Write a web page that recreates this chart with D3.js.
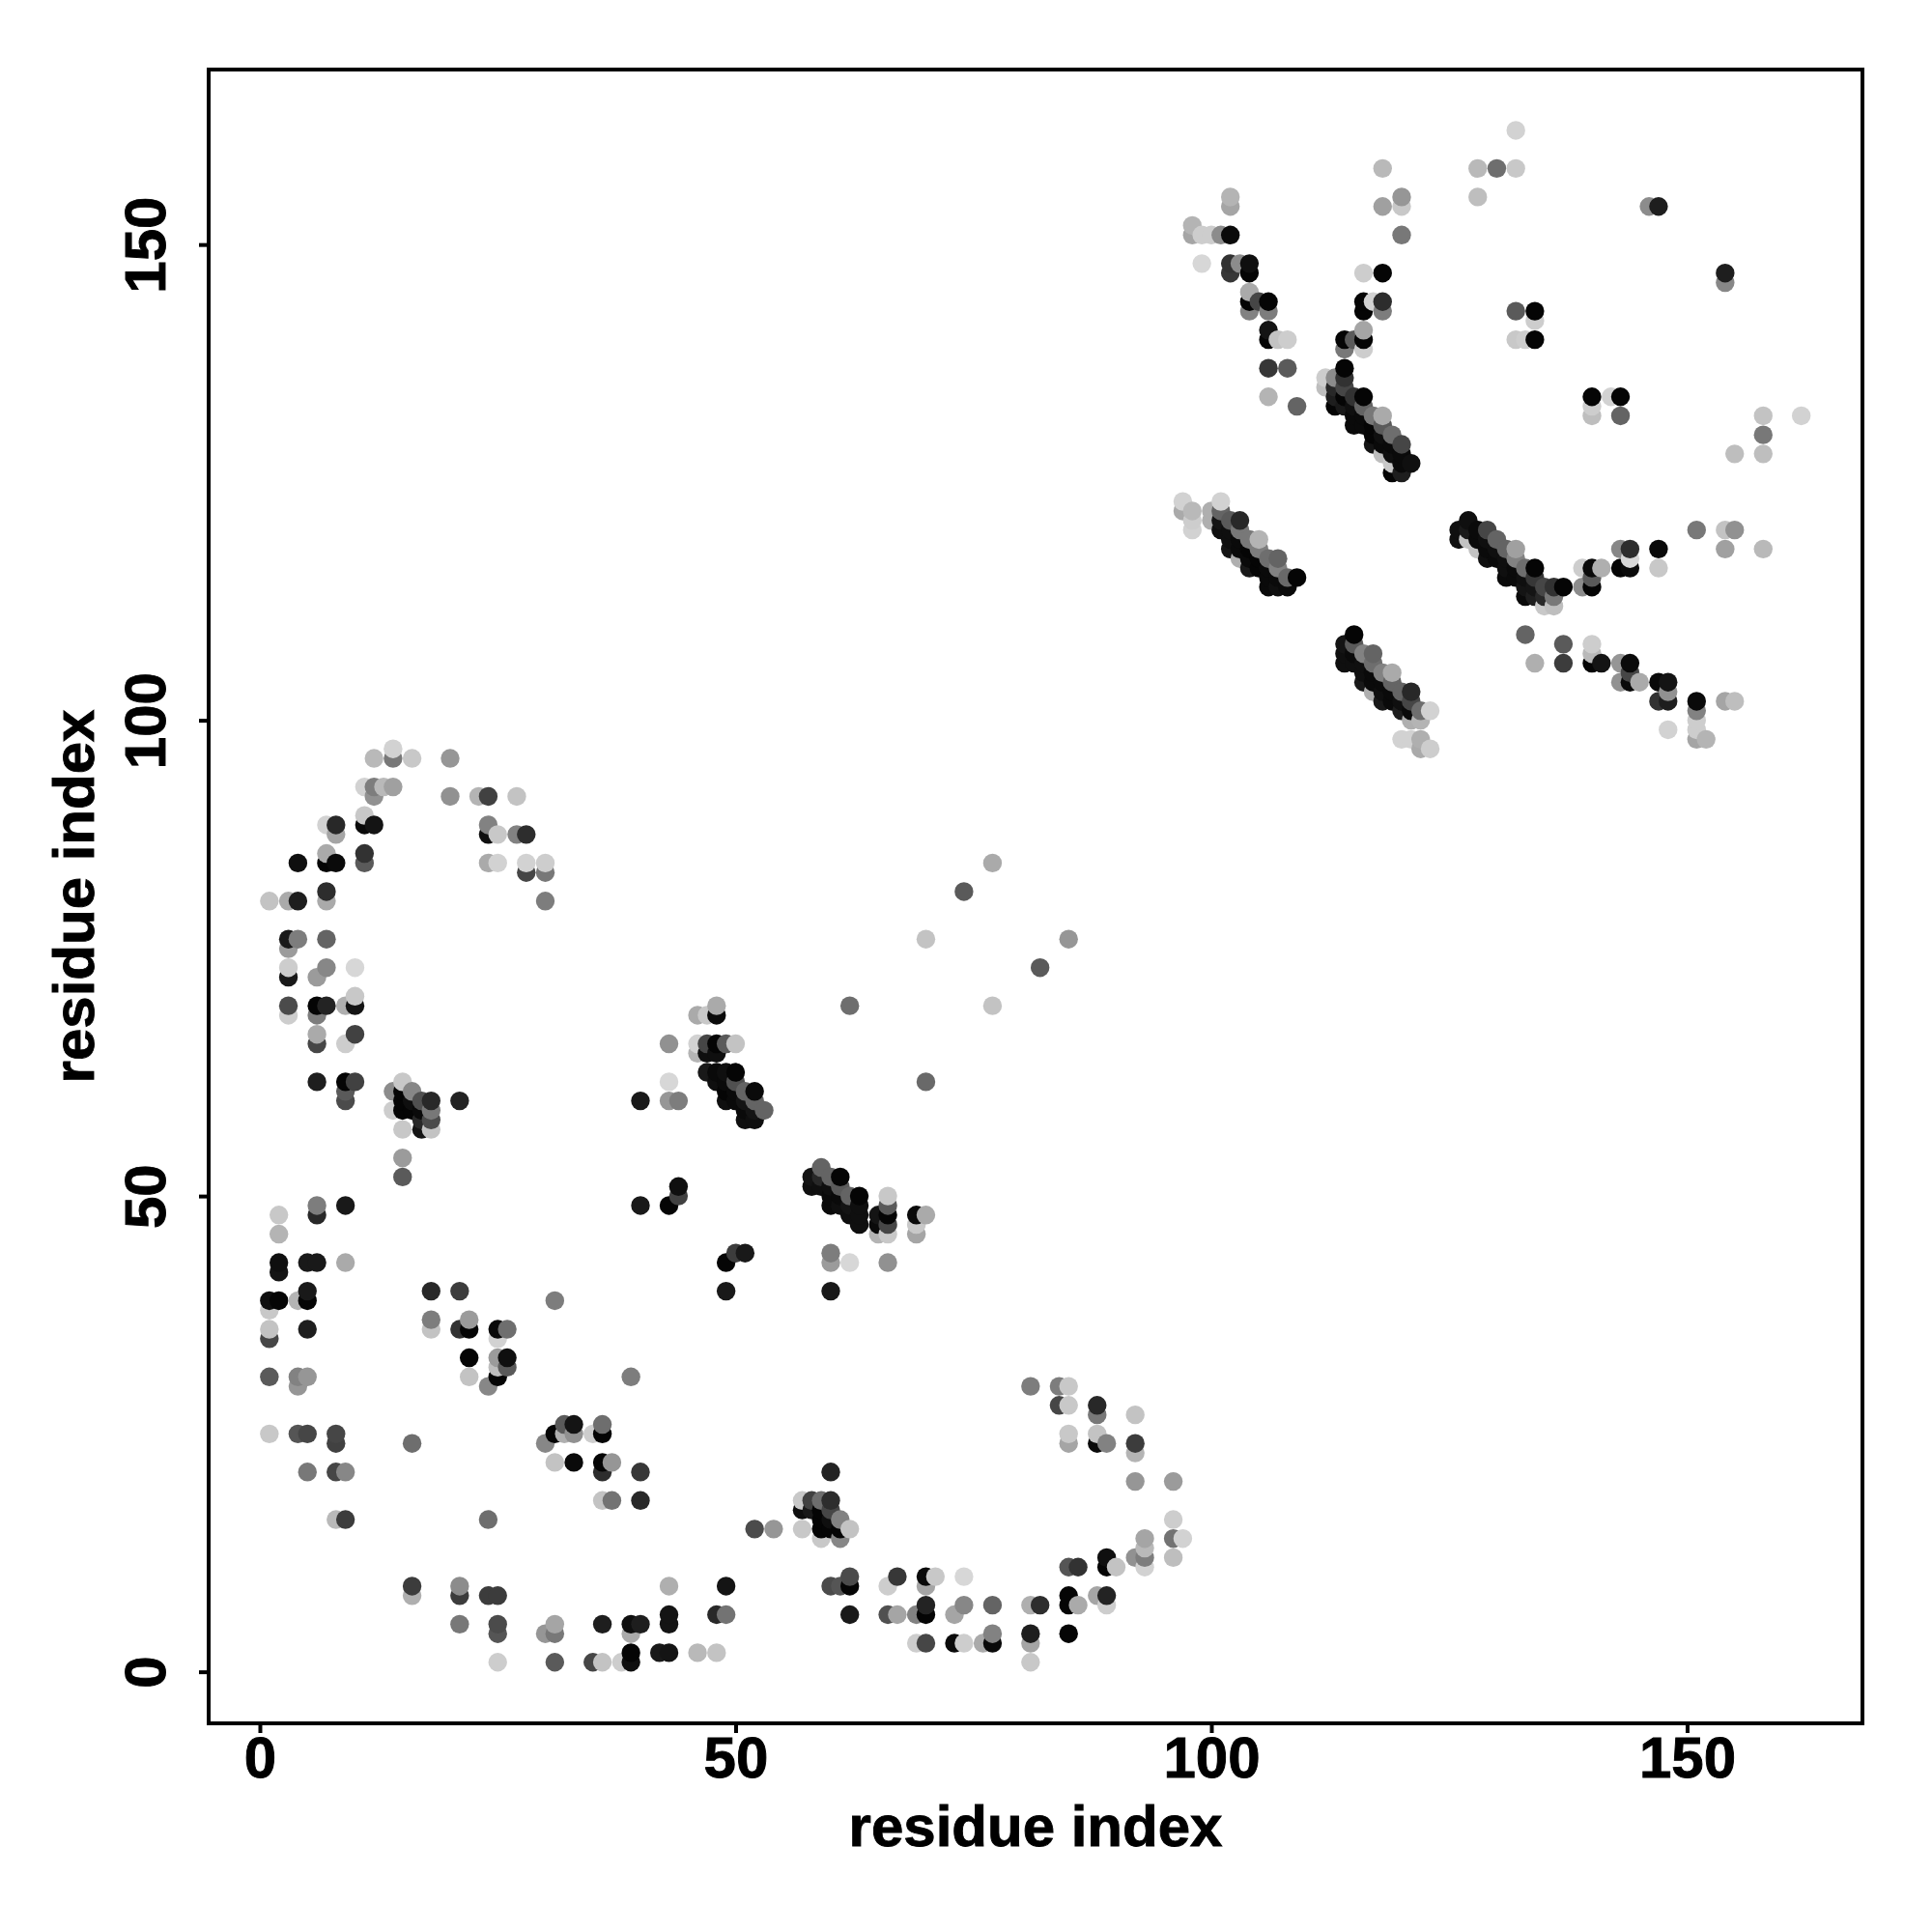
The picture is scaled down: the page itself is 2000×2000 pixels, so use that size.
<!DOCTYPE html>
<html><head><meta charset="utf-8">
<script src="https://cdn.jsdelivr.net/npm/d3@7"></script>
<style>html,body{margin:0;padding:0;background:#fff}</style>
</head><body><div id="chart"></div>
<script>
// each entry: [residue i, residue j, grey level of the contact]
const helixFoldUpper = [
[12,96,185],[14,96,120],[14,97,210],[16,96,200],[20,96,150],
[11,93,210],[12,93,125],[13,93,185],[14,93,160],[12,92,145],[20,92,145],[23,92,180],[24,92,65],[27,92,195],
[11,90,200],[7,89,210],[8,89,40],[11,89,10],[12,89,20],[24,89,130],
[8,88,165],[24,88,15],[25,88,200],[27,88,130],[28,88,45],
[7,86,170],[11,86,50],[4,85,15],[7,85,5],[8,85,10],[11,85,90],[24,85,170],[25,85,210],[28,85,210],[30,85,205],
[28,84,70],[30,84,120],[7,82,45],[1,81,195],[3,81,170],[4,81,30],[7,81,170],[30,81,125],
[3,77,25],[4,77,125],[7,77,100],[3,76,155],[3,74,205],[7,74,135],[10,74,215],[3,73,25],[6,73,155],
[10,71,200],[3,70,75],[6,70,5],[7,70,35],[9,70,175],[10,70,20],[3,69,205],[6,69,125],
[6,67,170],[10,67,65],[6,66,70],[9,66,205],
[6,62,30],[9,62,5],[10,62,65],[15,62,200],[9,61,90],[14,61,140],[15,61,5],[16,61,135],
[9,60,75],[15,60,5],[16,60,15],[17,60,80],[18,60,40],[21,60,35],
[14,59,205],[15,59,5],[16,59,5],[17,59,10],[18,59,120],[17,58,40],[18,58,75],
[15,57,200],[17,57,20],[18,57,195],[15,54,155],[15,52,90]
];
const helixFoldLower = [
[6,49,125],[9,49,25],[2,48,200],[6,48,40],[2,46,180],[2,43,15],[5,43,25],[6,43,25],[9,43,170],[2,42,20],
[5,40,25],[18,40,40],[21,40,60],[1,39,15],[2,39,5],[4,39,180],[5,39,5],[31,39,125],[1,38,200],
[18,37,125],[22,37,155],[1,36,195],[5,36,30],[18,36,195],[21,36,50],[22,36,5],[25,36,10],[26,36,110],
[1,35,70],[25,35,210],[22,33,5],[25,33,155],[26,33,15],[25,32,190],[26,32,90],
[1,31,90],[4,31,130],[5,31,150],[22,31,195],[25,31,5],[39,31,125],[4,30,150],[24,30,135],
[32,26,90],[33,26,20],[36,26,110],[1,25,200],[4,25,85],[5,25,70],[8,25,70],[31,25,5],[32,25,175],[33,25,145],[35,25,205],[36,25,5],
[8,24,65],[16,24,110],[30,24,135],[31,22,195],[33,22,10],[36,22,5],[37,22,150],
[5,21,120],[8,21,70],[9,21,135],[36,21,45],[40,21,55],[36,18,195],[37,18,115],[40,18,40],
[8,16,185],[9,16,60],[24,16,110],
[16,9,60],[21,9,140],[43,9,175],[16,8,175],[21,8,60],[24,8,60],[25,8,60],
[21,5,120],[25,5,75],[31,5,165],[36,5,30],[39,5,15],[40,5,30],[43,6,20],[43,5,20],
[25,4,85],[30,4,150],[31,4,120],[39,4,170],[39,2,5],[42,2,25],[43,2,20],
[25,1,205],[31,1,90],[35,1,70],[36,1,195],[38,1,205],[39,1,15]
];
const middleContacts = [
[48,70,170],[62,70,110],[77,70,195],[46,69,170],[47,69,200],[48,69,10],[82,74,90],
[74,82,90],[85,77,150],[70,77,195],[77,85,170],
[43,66,145],[46,66,210],[47,66,70],[48,66,5],[49,66,90],[50,66,195],[46,65,180],[47,65,15],[48,65,15],
[47,63,25],[48,63,10],[49,63,15],[50,63,5],[43,62,215],[48,62,15],[49,62,10],[50,62,80],[70,62,105],
[49,61,5],[50,61,10],[51,61,100],[52,61,10],[40,60,25],[43,60,150],[44,60,125],[49,60,15],[50,60,10],[51,60,20],[52,60,100],
[51,59,10],[52,59,20],[53,59,100],[51,58,15],[52,58,15],
[59,53,100],[58,52,20],[59,52,40],[60,52,100],[61,52,5],[44,51,15],[58,51,15],[59,51,15],[60,51,15],[61,51,90],
[44,50,65],[60,50,10],[61,50,10],[62,50,100],[63,50,5],[66,50,200],
[40,49,25],[43,49,5],[60,49,10],[61,49,15],[62,49,20],[63,49,15],[66,49,90],
[62,48,15],[63,48,15],[65,48,20],[66,48,5],[69,48,10],[70,48,170],[63,47,15],[65,47,10],[66,47,70],[69,47,200],
[65,46,180],[66,46,200],[69,46,165],[50,44,60],[51,44,25],[60,44,125],[49,43,5],[60,43,155],[62,43,215],[66,43,145],
[49,40,25],[60,40,25]
];
const lowerArc = [
[81,30,125],[84,30,125],[85,30,200],[84,28,70],[85,28,200],[88,28,40],[88,27,120],[92,27,195],
[85,25,200],[88,25,195],[85,24,165],[88,24,10],[89,24,130],[92,24,60],[92,23,180],
[60,21,35],[92,20,150],[96,20,155],[57,18,200],[58,18,65],[59,18,110],[60,18,45],
[57,17,15],[58,17,25],[59,17,5],[60,17,70],[59,16,5],[60,16,15],[61,16,130],[96,16,205],
[52,15,75],[54,15,150],[57,15,200],[59,15,5],[60,15,5],[61,15,5],[62,15,195],
[59,14,200],[61,14,135],[93,14,165],[96,14,115],[97,14,210],[93,13,185],
[89,12,15],[92,12,145],[93,12,125],[96,12,190],[85,11,85],[86,11,50],[89,11,5],[90,11,195],[93,11,210],
[62,10,75],[67,10,55],[70,10,10],[71,10,200],[74,10,215],
[49,9,20],[60,9,75],[61,9,85],[62,9,5],[66,9,205],[70,9,165],[85,8,5],[88,8,165],[89,8,35],
[70,7,35],[74,7,135],[77,7,100],[81,7,175],[82,7,45],[85,7,5],[86,7,170],[89,7,205],
[48,6,40],[49,6,115],[62,6,25],[66,6,80],[67,6,165],[69,6,130],[70,6,5],[73,6,165],
[77,4,130],[81,4,30],[85,4,5],[69,3,205],[70,3,70],[73,3,10],[74,3,205],[76,3,170],[77,3,10],[81,3,165],
[46,2,185],[48,2,195],[81,1,200]
];
const sheetUpperLeft = [
[132,162,210],[118,158,185],[128,158,185],[130,158,110],[132,158,200],
[102,155,180],[120,155,150],[128,155,190],[102,154,165],[118,154,160],[120,154,200],[146,154,140],[147,154,30],
[98,152,180],[98,151,165],[99,151,205],[100,151,205],[101,151,140],[102,151,10],[120,151,120],
[99,148,215],[102,148,50],[103,148,140],[104,148,15],[102,147,55],[104,147,5],[116,147,205],[118,147,5],[154,147,30],[154,146,135],
[104,145,170],[104,144,5],[105,144,70],[106,144,5],[116,144,5],[117,144,210],[118,144,45],
[104,143,130],[106,143,125],[116,143,5],[118,143,125],[132,143,90],[134,143,5],[134,142,205],
[106,141,20],[116,141,165],[106,140,5],[107,140,195],[108,140,205],[114,140,5],[115,140,90],[116,140,5],[132,140,200],[133,140,205],[134,140,5],
[114,139,120],[116,139,205],[106,137,55],[108,137,90],[114,137,5],
[112,136,205],[113,136,140],[114,136,50],[112,135,190],[113,135,40],[114,135,70],
[106,134,180],[113,134,30],[114,134,5],[115,134,50],[116,134,5],[140,134,5],[142,134,210],[143,134,5],
[109,133,100],[113,133,5],[114,133,25],[115,133,15],[116,133,100],[140,133,205],
[115,132,10],[116,132,10],[117,132,120],[118,132,170],[140,132,190],[143,132,100],[158,132,195],[162,132,210],
[115,131,10],[116,131,10],[117,131,5],[118,131,90],[117,130,5],[118,130,15],[119,130,110],[158,130,120],
[117,129,20],[118,129,10],[119,129,10],[120,129,70],[118,128,190],[119,128,15],[120,128,10],[155,128,190],[158,128,190],
[119,127,200],[120,127,10],[121,127,15],[119,126,5],[120,126,30]
];
const sheetDiagonals = [
[97,123,210],[101,123,210],[97,122,170],[98,122,185],[100,122,175],[101,122,100],
[98,121,205],[100,121,175],[101,121,20],[102,121,90],[103,121,40],[98,120,210],[101,120,15],[102,120,15],[103,120,120],
[102,119,15],[103,119,10],[104,119,120],[105,119,180],[102,118,20],[103,118,10],[104,118,5],[105,118,125],
[103,117,175],[104,117,10],[105,117,5],[106,117,110],[107,117,100],[104,116,25],[105,116,5],[106,116,10],[107,116,130],
[106,115,10],[107,115,10],[108,115,105],[109,115,5],[106,114,10],[107,114,15],[108,114,10],
[115,109,5],[114,108,20],[115,108,90],[114,107,15],[115,107,10],[116,107,130],[117,107,100],
[114,106,15],[115,106,15],[116,106,15],[117,106,110],[116,105,15],[117,105,10],[118,105,130],[119,105,170],
[116,104,25],[117,104,10],[118,104,10],[119,104,100],[117,103,175],[118,103,15],[119,103,10],[120,103,100],[121,103,40],
[118,102,25],[119,102,10],[120,102,15],[121,102,70],[120,101,30],[121,101,10],[122,101,110],[123,101,210],
[121,100,175],[122,100,180],[120,98,210],[121,98,210],[122,98,175],[122,97,170],[123,97,205]
];
const sheetLowerRight = [
[127,121,15],[126,120,15],[127,120,25],[128,120,10],[129,120,70],[151,120,120],[154,120,195],[155,120,145],
[126,119,15],[127,119,195],[128,119,10],[129,119,15],[130,119,100],
[128,118,195],[129,118,10],[130,118,15],[131,118,100],[132,118,160],[143,118,135],[144,118,45],[147,118,10],[154,118,160],[158,118,185],
[129,117,15],[130,117,10],[131,117,15],[132,117,130],[144,117,215],
[131,116,15],[132,116,10],[133,116,110],[134,116,5],[139,116,205],[140,116,10],[141,116,175],[143,116,5],[144,116,10],[147,116,200],
[131,115,10],[132,115,10],[133,115,15],[134,115,55],[140,115,90],
[133,114,20],[134,114,20],[135,114,70],[136,114,50],[137,114,5],[139,114,140],[140,114,5],
[133,113,10],[134,113,30],[135,113,40],[136,113,120],[135,112,200],[136,112,190],
[133,109,100],[137,108,90],[140,108,205],[140,107,185],
[134,106,175],[137,106,60],[140,106,5],[141,106,20],[143,106,150],[144,106,10],[144,105,70],
[143,104,145],[144,104,10],[145,104,170],[147,104,10],[148,104,20],[148,103,145],
[147,102,50],[148,102,30],[151,102,10],[154,102,165],[155,102,190],[151,101,130],[151,100,205],
[148,99,210],[151,99,205],[151,98,165],[152,98,180]
];
const xTickValues = [0, 50, 100, 150];
const yTickValues = [0, 50, 100, 150];
const axisTitle = "residue index";

const contacts = [].concat(helixFoldUpper, helixFoldLower, middleContacts, lowerArc,
    sheetUpperLeft, sheetDiagonals, sheetLowerRight)
  .sort((a, b) => d3.ascending(a[0], b[0]) || d3.ascending(a[1], b[1]));

const W = 2000, H = 2000, L = 216, R = 1928, T = 72, B = 1784;
const FONT = '"Liberation Sans", Arial, sans-serif';
const x = d3.scaleLinear().domain([-5.38, 168.43]).range([L, R]);
const y = d3.scaleLinear().domain([-5.42, 168.39]).range([B, T]);
const grey = d3.scaleLinear().domain([0, 255]).range(["#000000", "#ffffff"]);

const svg = d3.select("#chart").append("svg")
  .attr("width", W).attr("height", H).attr("viewBox", `0 0 ${W} ${H}`)
  .style("display", "block").style("background", "#fff");

svg.append("g").selectAll("circle").data(contacts).join("circle")
  .attr("cx", d => x(d[0])).attr("cy", d => y(d[1])).attr("r", 9.7)
  .attr("fill", d => grey(d[2]));

svg.append("rect").attr("x", L).attr("y", T).attr("width", R - L).attr("height", B - T)
  .attr("fill", "none").attr("stroke", "#000").attr("stroke-width", 4);

function styleLabel(sel) {
  sel.attr("font-family", FONT).attr("font-weight", 700).attr("font-size", 60)
    .attr("fill", "#000").attr("stroke", "#000").attr("stroke-width", 0.9);
}

const xAxis = svg.append("g").attr("transform", `translate(0,${B})`)
  .call(d3.axisBottom(x).tickValues(xTickValues).tickSize(10).tickPadding(0).tickFormat(d3.format("d")));
xAxis.attr("font-size", null).attr("font-family", null);
xAxis.select(".domain").remove();
xAxis.selectAll("line").attr("stroke", "#000").attr("stroke-width", 4);
xAxis.selectAll("text").attr("y", 56).attr("dy", 0).call(styleLabel);

const yAxis = svg.append("g").attr("transform", `translate(${L},0)`)
  .call(d3.axisLeft(y).tickValues(yTickValues).tickSize(10).tickPadding(0).tickFormat(d3.format("d")));
yAxis.attr("font-size", null).attr("font-family", null);
yAxis.select(".domain").remove();
yAxis.selectAll("line").attr("stroke", "#000").attr("stroke-width", 4);
yAxis.selectAll("text")
  .attr("x", 0).attr("dy", 0)
  .attr("transform", "translate(-45,0) rotate(-90)")
  .attr("text-anchor", "middle")
  .call(styleLabel);

svg.append("text").attr("x", (L + R) / 2).attr("y", 1911).attr("text-anchor", "middle")
  .call(styleLabel).text(axisTitle);
svg.append("text").attr("transform", `translate(97,${(T + B) / 2}) rotate(-90)`).attr("text-anchor", "middle")
  .call(styleLabel).text(axisTitle);
</script></body></html>
